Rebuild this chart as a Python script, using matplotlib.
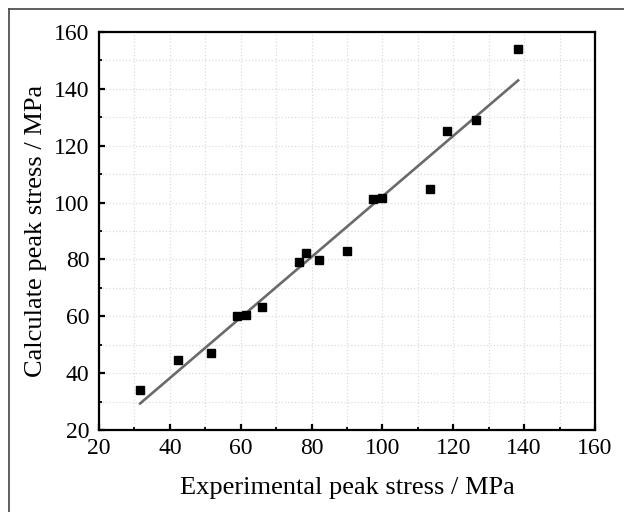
import numpy as np
import matplotlib
matplotlib.use("Agg")
import matplotlib.pyplot as plt
from matplotlib.lines import Line2D
from matplotlib.ticker import MultipleLocator

# --- data ---
experimental = [31.6, 42.2, 51.6, 58.9, 61.5, 65.9, 76.5, 78.4, 82.0, 90.1,
                97.4, 100.0, 113.4, 118.1, 126.3, 138.3]
calculated = [34.1, 44.6, 47.0, 60.1, 60.4, 63.2, 79.2, 82.2, 79.8, 83.1,
              101.2, 101.5, 104.7, 125.3, 129.0, 154.1]

x_ticks = [20, 40, 60, 80, 100, 120, 140, 160]
y_ticks = [20, 40, 60, 80, 100, 120, 140, 160]

plt.rcParams['font.family'] = ['Liberation Serif', 'DejaVu Serif']

fig = plt.figure(figsize=(6.24, 5.12), dpi=100)
ax = fig.add_axes([99 / 624, 1 - 430 / 512, (595 - 99) / 624, (430 - 32) / 512])

# linear fit
k, b = np.polyfit(experimental, calculated, 1)
xs = np.array([min(experimental), max(experimental)])
ax.plot(xs, k * xs + b, color='#6a6a6a', lw=1.9, zorder=2)

ax.plot(experimental, calculated, 's', color='black', ms=6.2, zorder=3)

ax.set_xlim(20, 160)
ax.set_ylim(20, 160)
ax.set_xticks(x_ticks)
ax.set_yticks(y_ticks)
ax.xaxis.set_minor_locator(MultipleLocator(10))
ax.yaxis.set_minor_locator(MultipleLocator(10))

ax.grid(True, which='both', color='#dcdcdc', linestyle=':', lw=0.9, zorder=0)
ax.set_axisbelow(True)

ax.tick_params(which='major', direction='in', length=4, width=1.6,
               labelsize=17, top=False, right=False)
ax.tick_params(axis='x', which='major', pad=6)
ax.tick_params(axis='y', which='major', pad=7)
ax.tick_params(which='minor', direction='in', length=2.5, width=1.3,
               top=False, right=False)
for s in ax.spines.values():
    s.set_linewidth(1.6)

ax.set_xlabel('Experimental peak stress / MPa', fontsize=19, va='center')
ax.set_ylabel('Calculate peak stress / MPa', fontsize=19, va='center')
ax.xaxis.set_label_coords(0.5, (430 - 488) / 398)
ax.yaxis.set_label_coords((36 - 99) / 496, 0.5)

# outer frame (cropped figure border)
fx, fy = 9 / 624, 1 - 9 / 512
fig.add_artist(Line2D([fx, fx], [0, fy], transform=fig.transFigure,
                      color='#444444', lw=1.2))
fig.add_artist(Line2D([fx, 1], [fy, fy], transform=fig.transFigure,
                      color='#444444', lw=1.2))

fig.savefig('out.png', dpi=100)
